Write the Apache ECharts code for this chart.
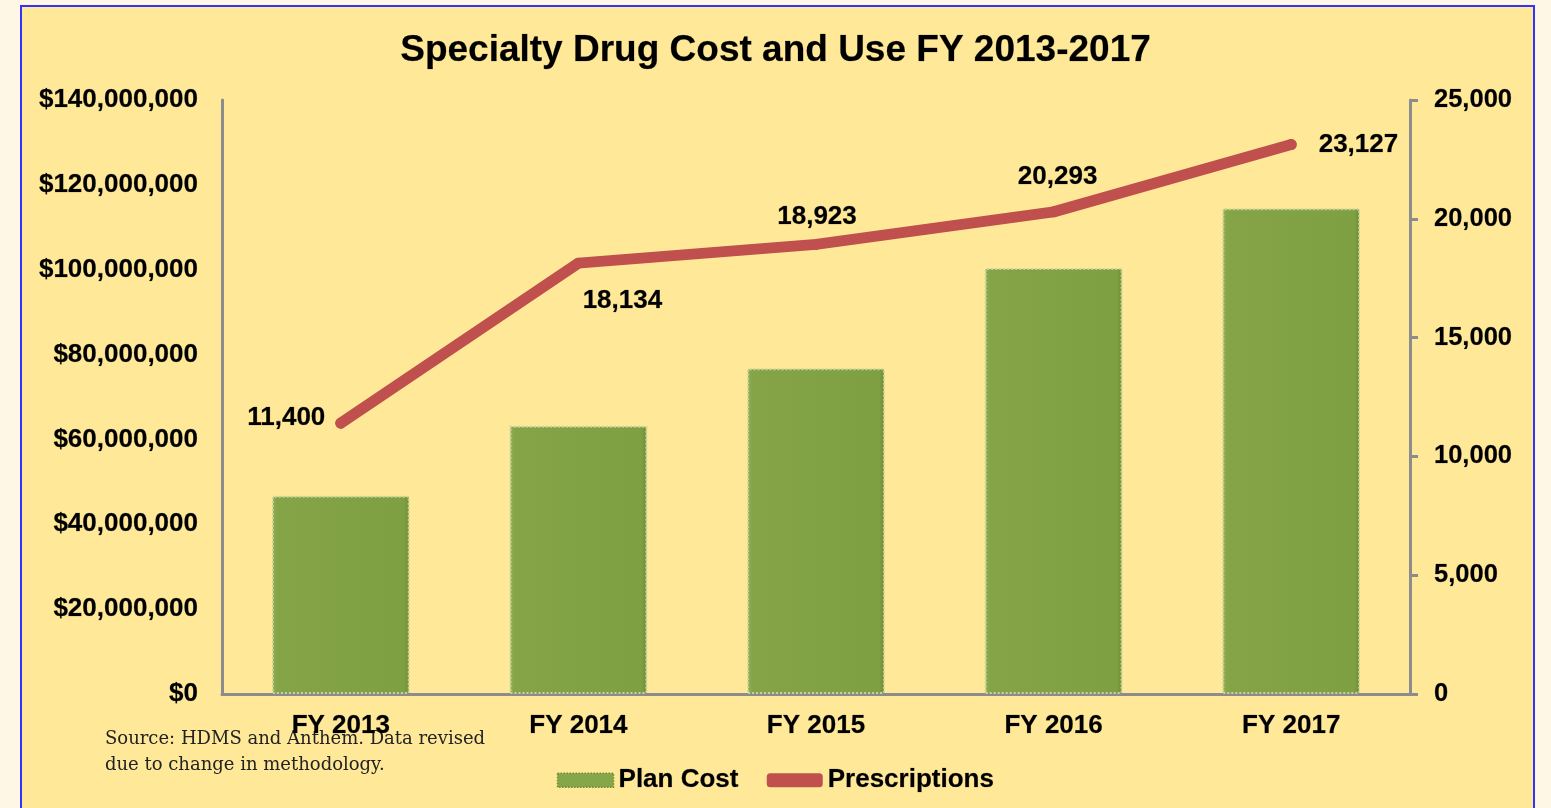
<!DOCTYPE html>
<html>
<head>
<meta charset="utf-8">
<script src="https://cdn.jsdelivr.net/npm/echarts@6/dist/echarts.min.js"></script>
<style>
html,body{margin:0;padding:0;width:1551px;height:808px;overflow:hidden;background:#FEF7E6;}
#box{position:absolute;left:20px;top:5px;width:1511px;height:810px;background:#FFE999;border:2px solid #3333FF;border-bottom:none;}
#chart{position:absolute;left:0;top:0;width:1551px;height:808px;}
</style>
</head>
<body>
<div id="box"></div>
<div id="chart"></div>
<script>
const categories = ['FY 2013','FY 2014','FY 2015','FY 2016','FY 2017'];
const planCost = [46700000, 63200000, 76800000, 100400000, 114500000];
const prescriptions = [11400, 18134, 18923, 20293, 23127];
const leftTicks = {min:0, max:140000000, interval:20000000};
const rightTicks = {min:0, max:25000, interval:5000};
const sourceLines = ['Source: HDMS and Anthem. Data revised','due to change in methodology.'];

const labelPlacement = [
  {position:'left', distance:10, offset:[0,-5]},
  {position:'bottom', distance:14, offset:[44,5]},
  {position:'top', distance:9, offset:[1,0]},
  {position:'top', distance:17, offset:[4,0]},
  {position:'right', distance:22, offset:[0,0]}
];

const fmt = v => v.toLocaleString('en-US');
const font = 'Liberation Sans, Arial, sans-serif';
const txt = {fontFamily:font, fontWeight:'bold', color:'#000', textBorderColor:'rgba(0,0,0,0.35)', textBorderWidth:0.6};

const chart = echarts.init(document.getElementById('chart'), null, {renderer:'canvas'});
chart.setOption({
  backgroundColor:'transparent',
  animation:false,
  title:{
    text:'Specialty Drug Cost and Use FY 2013-2017',
    left:'center', top:27,
    textStyle:Object.assign({}, txt, {fontSize:37})
  },
  grid:{left:222, right:141, top:100, bottom:114},
  legend:{
    left:'center', top:762,
    itemWidth:56, itemHeight:14, itemGap:28,
    textStyle:Object.assign({}, txt, {fontSize:26}),
    data:[
      {name:'Plan Cost', icon:'rect', itemStyle:{color:'#86A64A', borderColor:'#6E8A38', borderType:'dotted', borderWidth:1.5}},
      {name:'Prescriptions', icon:'roundRect', itemStyle:{color:'#C0504D'}}
    ]
  },
  xAxis:{
    type:'category', data:categories,
    axisLine:{lineStyle:{color:'#8C8C8C', width:3}},
    axisTick:{show:false},
    axisLabel:Object.assign({}, txt, {fontSize:26, margin:19})
  },
  yAxis:[
    {
      type:'value', min:leftTicks.min, max:leftTicks.max, interval:leftTicks.interval,
      axisLine:{show:true, lineStyle:{color:'#8C8C8C', width:3}},
      axisTick:{show:false},
      splitLine:{show:false},
      axisLabel:Object.assign({}, txt, {fontSize:26, margin:24, formatter:v=>'$'+fmt(v)})
    },
    {
      type:'value', min:rightTicks.min, max:rightTicks.max, interval:rightTicks.interval,
      position:'right',
      axisLine:{show:true, lineStyle:{color:'#8C8C8C', width:3}},
      axisTick:{show:true, length:8, lineStyle:{color:'#8C8C8C', width:3}},
      splitLine:{show:false},
      axisLabel:Object.assign({}, txt, {fontSize:25.5, margin:24, formatter:v=>fmt(v)})
    }
  ],
  series:[
    {
      name:'Plan Cost', type:'bar', yAxisIndex:0, barWidth:'58%',
      data:planCost,
      itemStyle:{
        color:new echarts.graphic.LinearGradient(0,0,1,0,[
          {offset:0,color:'#92B158'},{offset:0.04,color:'#84A447'},
          {offset:0.96,color:'#7F9F43'},{offset:1,color:'#6C8A34'}]),
        borderColor:'#C9D49A', borderType:'dotted', borderWidth:2
      }
    },
    {
      name:'Prescriptions', type:'line', yAxisIndex:1,
      data:prescriptions.map((v,i)=>({value:v, label:Object.assign({show:true}, labelPlacement[i])})),
      symbol:'circle', symbolSize:11, showSymbol:true,
      itemStyle:{color:'#C0504D'},
      lineStyle:{color:'#C0504D', width:11, cap:'round', join:'round'},
      label:Object.assign({show:true}, txt, {fontSize:26, formatter:p=>fmt(p.value)}),
      z:5
    }
  ],
  graphic:[
    {type:'text', left:105, top:726, z:-1,
      style:{text:sourceLines.join('\n'), fontFamily:'DejaVu Serif, serif', fontSize:18, lineHeight:26, fill:'#222'}}
  ]
});
</script>
</body>
</html>
